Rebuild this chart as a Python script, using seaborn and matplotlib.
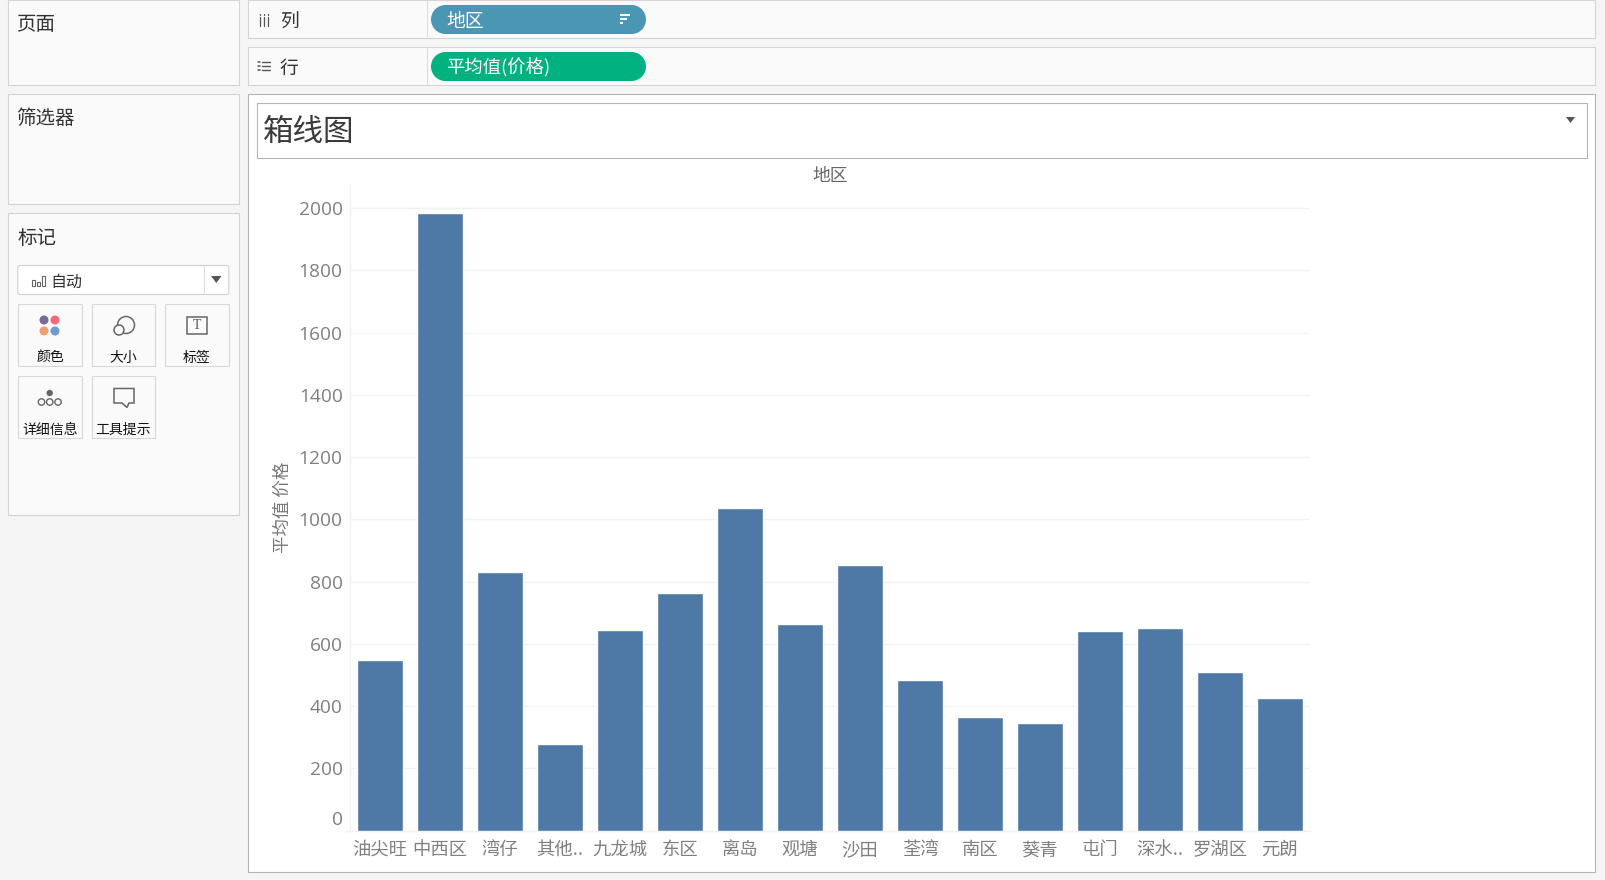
import matplotlib
matplotlib.use("Agg")
import matplotlib.pyplot as plt
from matplotlib.patches import Rectangle, FancyBboxPatch, Circle, Polygon
from matplotlib.ticker import FixedLocator
from matplotlib.transforms import ScaledTranslation
import pandas as pd
import seaborn as sns

# ---- data ----
regions = ["油尖旺", "中西区", "湾仔", "其他..", "九龙城", "东区", "离岛", "观塘",
           "沙田", "荃湾", "南区", "葵青", "屯门", "深水..", "罗湖区", "元朗"]
avg_price = [548, 1983, 832, 278, 645, 764, 1037, 664,
             852, 484, 366, 347, 642, 652, 511, 426]
y_ticks = [0, 200, 400, 600, 800, 1000, 1200, 1400, 1600, 1800, 2000]
BAR = "#4e79a7"

sns.set_theme(style="white")
CJK = ["Noto Sans CJK SC", "DejaVu Sans"]
plt.rcParams["font.family"] = CJK

W, H = 1605, 880
fig = plt.figure(figsize=(W / 100, H / 100), dpi=100, facecolor="#f5f5f5")

# ---- interface chrome, laid out in pixels ----
ui = fig.add_axes([0, 0, 1, 1], zorder=0)
ui.set_xlim(0, W)
ui.set_ylim(H, 0)
ui.axis("off")
PX = 0.72


def box(x0, y0, x1, y1, fc="#fafafa", ec="#d4d4d4", lw=1.1):
    ui.add_patch(Rectangle((x0 - 0.7, y0), x1 - x0, y1 - y0, fc=fc, ec=ec, lw=lw * PX))


def label(x, y, s, size, color="#333333", ha="left", **kw):
    ui.text(x, y + 2, s, fontsize=size, color=color, ha=ha, va="center", **kw)


def pill(x0, y0, x1, y1, color):
    r = (y1 - y0) / 2
    ui.add_patch(Circle((x0 + r, (y0 + y1) / 2), r, fc=color, ec="none"))
    ui.add_patch(Circle((x1 - r, (y0 + y1) / 2), r, fc=color, ec="none"))
    ui.add_patch(Rectangle((x0 + r, y0), x1 - x0 - 2 * r, y1 - y0, fc=color, ec="none"))


# left panels
box(8.5, 0.5, 239.5, 85.5)
box(8.5, 94.5, 239.5, 204.5)
box(8.5, 213.5, 239.5, 515)
label(16.5, 23, "页面", 14)
label(16.5, 116, "筛选器", 14)
label(17, 236, "标记", 14)

# shelves
box(248.5, 0.5, 1596, 38.5)
box(248.5, 47.5, 1596, 85.5)
ui.plot([427, 427], [1, 38], color="#dcdcdc", lw=PX)
ui.plot([427, 427], [48, 85], color="#dcdcdc", lw=PX)
for dx in (260, 264, 268):
    ui.plot([dx, dx], [17, 26], color="#555555", lw=0.9)
    ui.plot([dx, dx], [14.5, 15.5], color="#555555", lw=0.9)
for dy in (62, 66, 70):
    ui.plot([258, 260], [dy, dy], color="#555555", lw=1.1)
    ui.plot([261.5, 270], [dy, dy], color="#555555", lw=1.0)
label(280, 20.5, "列", 13.5)
label(280, 66.5, "行", 13.5)
pill(431, 5, 646, 34, "#4a96b3")
pill(431, 52, 646, 81, "#02b180")
label(446, 19.5, "地区", 13.5, color="white")
label(446, 66, "平均值(价格)", 13.2, color="white")
for dy, x1 in ((15, 630), (19, 626.5), (23, 622.5)):
    ui.plot([619.5, x1], [dy, dy], color="white", lw=1.5, solid_capstyle="butt")

# mark type selector
ui.add_patch(FancyBboxPatch((17.8, 265.5), 211, 29, boxstyle="round,pad=0,rounding_size=2",
                            fc="white", ec="#cfcfcf", lw=1.1 * PX))
ui.plot([203.7, 203.7], [266, 294], color="#dcdcdc", lw=PX)
ui.add_patch(Polygon([[211, 276], [221.5, 276], [216.3, 283]], fc="#555555", ec="none"))
for bx, bt in ((32, 280), (37, 282), (42, 276)):
    ui.add_patch(Rectangle((bx, bt), 3, 286 - bt, fc="white", ec="#666666", lw=0.8))
label(50.5, 280.5, "自动", 11.5)

# mark cards
for x0, x1, y0, y1, s in (
    (18.5, 82.5, 304.5, 366.5, "颜色"),
    (92.5, 155.5, 304.5, 366.5, "大小"),
    (165.5, 229.5, 304.5, 366.5, "标签"),
    (18.5, 82.5, 376.5, 438.5, "详细信息"),
    (92.5, 155.5, 376.5, 438.5, "工具提示"),
):
    box(x0, y0, x1, y1, fc="#fafafa", ec="#d8d8d8")
    label((x0 + x1) / 2 - 0.5, y1 - 11, s, 10, color="#111111", ha="center")

for cx, cy, c in ((44, 320, "#7b6a99"), (55, 320, "#f5697a"),
                  (44, 331, "#f0a070"), (55, 331, "#6f9bcf")):
    ui.add_patch(Circle((cx, cy), 4.5, fc=c, ec="none"))
ui.add_patch(Circle((126, 325), 8.5, fc="none", ec="#666666", lw=1.1))
ui.add_patch(Circle((119, 330), 5, fc="#fafafa", ec="#666666", lw=1.1))
ui.add_patch(Rectangle((186.5, 317), 20.5, 17, fc="none", ec="#666666", lw=1.1))
ui.text(196.8, 325.5, "T", fontsize=10, color="#555555", ha="center", va="center",
        family="Liberation Serif")
ui.add_patch(Circle((49.7, 393), 3.2, fc="#666666", ec="none"))
for cx in (41.5, 49.7, 58):
    ui.add_patch(Circle((cx, 402), 3.2, fc="none", ec="#666666", lw=1))
ui.add_patch(Polygon([[114, 388.5], [134, 388.5], [134, 403], [129, 403], [127, 407.5],
                      [122, 403], [114, 403]], fc="#fafafa", ec="#666666", lw=1.1))

# view panel and title box
box(248.5, 94.5, 1596, 872, fc="white", ec="#b4b4b4")
box(257.5, 103.5, 1587.5, 158.5, fc="white", ec="#b4b4b4")
label(263, 130.5, "箱线图", 22, color="#3a3a3a")
ui.add_patch(Polygon([[1566, 117], [1575, 117], [1570.5, 123]], fc="#555555", ec="none"))

# ---- chart ----
L, R, T, B = 350.0, 1310.0, 183.7, 830.7
ax = fig.add_axes([L / W, 1 - B / H, (R - L) / W, (B - T) / H], zorder=1)
ax.patch.set_alpha(0)

df = pd.DataFrame({"地区": regions, "平均值 价格": avg_price})
sns.barplot(data=df, x="地区", y="平均值 价格", color=BAR, saturation=1, width=0.755,
            ax=ax, zorder=3)
ax.set_xlim(-0.5, len(regions) - 0.5)
ax.set_ylim(0, (B - T) / 622.7 * 2000)

GRID = "#f2f2f2"
ax.set_yticks(y_ticks)
ax.set_yticklabels([str(v) for v in y_ticks], family="Open Sans", fontsize=13.8, color="#808080")
ax.tick_params(axis="y", length=0, pad=5.3)
ax.grid(axis="y", color=GRID, lw=1.0, zorder=0)
ax.set_axisbelow(True)
zero = ax.get_yticklabels()[0]
zero.set_transform(zero.get_transform() + ScaledTranslation(0, 13 / 100, fig.dpi_scale_trans))

ax.set_xticks(range(len(regions)))
ax.set_xticklabels(regions, fontsize=13.2, color="#808080")
ax.tick_params(axis="x", which="major", length=0, pad=7.5)
ax.xaxis.set_minor_locator(FixedLocator([i - 0.5 for i in range(len(regions) + 1)]))
ax.tick_params(axis="x", which="minor", length=4.5, width=1, color=GRID)

for name in ("top", "right"):
    ax.spines[name].set_visible(False)
for name in ("left", "bottom"):
    ax.spines[name].set_color(GRID)
    ax.spines[name].set_linewidth(1)
ui.plot([345, L], [B, B], color=GRID, lw=1)

ax.set_xlabel("")
ax.set_title("地区", fontsize=12.8, color="#666666", pad=2)
ax.set_ylabel("平均值 价格", fontsize=12.6, color="#777777")
ax.yaxis.set_label_coords((291.5 - L) / (R - L), 0.5)

fig.savefig("out.png", dpi=100, facecolor=fig.get_facecolor())
